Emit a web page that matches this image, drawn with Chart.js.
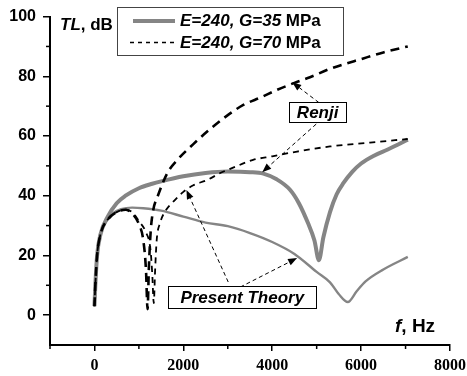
<!DOCTYPE html>
<html>
<head>
<meta charset="utf-8">
<script src="https://cdn.jsdelivr.net/npm/chart.js@4.4.0/dist/chart.umd.min.js"></script>
<style>
  html, body { margin: 0; padding: 0; background: #fff; }
  canvas { display: block; }
</style>
</head>
<body>
<canvas id="c" width="467" height="376"></canvas>
<script>
// --- data (frequency in Hz, TL in dB) ---
const renji35Freq = [0, 20, 60, 135, 300, 500, 700, 1000, 1300, 1500, 2000, 2500, 3000, 3500, 3800, 4100, 4400, 4600, 4800, 4950, 5050, 5150, 5300, 5450, 5600, 5800, 6000, 6300, 6600, 7050];
const renji35TL   = [3, 10, 20, 27, 33, 37.5, 40, 42.5, 44, 44.8, 46.5, 47.6, 48.1, 47.9, 47.4, 45.5, 42, 37.5, 31, 25, 18.4, 26, 34.5, 40.5, 44.2, 48, 50.8, 53.5, 55.5, 58.8];

const pt35Freq = [0, 20, 60, 135, 250, 400, 600, 850, 1100, 1500, 2000, 2500, 3000, 3500, 4000, 4500, 5000, 5300, 5500, 5700, 5900, 6100, 6500, 7050];
const pt35TL   = [3, 10, 20, 27, 31, 34, 35.5, 36, 35.8, 35, 33, 31, 29.8, 27.5, 24.5, 20.5, 14.5, 11, 7, 4.4, 8, 11.3, 15.3, 19.5];

const renji70Freq = [0, 20, 60, 135, 300, 500, 700, 850, 1000, 1100, 1160, 1195, 1225, 1265, 1320, 1415, 1640, 1865, 2225, 2600, 3000, 3350, 3750, 4100, 4500, 4850, 5300, 6050, 6500, 7050];
const renji70TL   = [3, 10, 20, 27, 32, 34.5, 35.3, 34, 30.5, 25, 15, 2, 16, 28, 35, 39.5, 47.6, 52, 57.3, 62.3, 67, 70.4, 73, 75.4, 77.8, 79.7, 82.5, 86, 88, 90];

const pt70Freq = [0, 20, 60, 135, 300, 500, 700, 850, 1000, 1150, 1260, 1300, 1335, 1365, 1400, 1480, 1600, 1775, 2000, 2225, 2540, 2830, 3120, 3570, 4000, 4560, 5300, 6200, 7050];
const pt70TL   = [3, 10, 20, 27, 32, 34.5, 35.3, 34.5, 31.5, 28, 22, 14, 4, 15, 25, 31, 35, 38, 41.3, 43.5, 45.3, 47.6, 49.4, 52, 53.2, 54.8, 56.5, 57.8, 59];

const xLabels = [0, 2000, 4000, 6000, 8000];
const yLabels = [0, 20, 40, 60, 80, 100];
const legendLabels = ['E=240, G=35', 'E=240, G=70'];
const legendUnit = 'MPa';

// text boxes with arrows, anchored in data units
const notes = [
  { text: 'Renji', at: [5022, 67.9], w: 57, h: 20,
    arrows: [[5050, 71.2, 4450, 78.0], [4990, 64.0, 3775, 47.9]] },
  { text: 'Present Theory', at: [3326, 6.0], w: 148, h: 22,
    arrows: [[3010, 11.1, 2070, 41.9], [3280, 9.4, 4560, 19.1]] }
];

const SANS = '"Liberation Sans", Arial, sans-serif';
const SERIF = '"Liberation Serif", "Times New Roman", serif';
const GRAY = '#858585';

const pts = (xs, ys) => xs.map((x, i) => ({ x: x, y: ys[i] }));

function arrow(ctx, x1, y1, x2, y2) {
  const a = Math.atan2(y2 - y1, x2 - x1);
  const L = 9, W = 3.5;
  const bx = x2 - L * Math.cos(a), by = y2 - L * Math.sin(a);
  ctx.save();
  ctx.strokeStyle = '#000';
  ctx.fillStyle = '#000';
  ctx.lineWidth = 1;
  ctx.setLineDash([4, 3]);
  ctx.beginPath();
  ctx.moveTo(x1, y1);
  ctx.lineTo(bx, by);
  ctx.stroke();
  ctx.setLineDash([]);
  ctx.beginPath();
  ctx.moveTo(x2, y2);
  ctx.lineTo(bx + W * Math.sin(a), by - W * Math.cos(a));
  ctx.lineTo(bx - W * Math.sin(a), by + W * Math.cos(a));
  ctx.closePath();
  ctx.fill();
  ctx.restore();
}

// draws "italic part" + " rest" in bold
function mixedText(ctx, italicPart, rest, x, y, size) {
  ctx.font = 'italic bold ' + size + 'px ' + SANS;
  ctx.fillText(italicPart, x, y);
  const w = ctx.measureText(italicPart).width;
  ctx.font = 'bold ' + size + 'px ' + SANS;
  ctx.fillText(rest, x + w, y);
}

const extras = {
  id: 'extras',
  afterDraw(chart) {
    const ctx = chart.ctx;
    const xs = chart.scales.x, ys = chart.scales.y;
    const area = chart.chartArea;

    // minor ticks + x tick labels (serif, as in the original)
    ctx.save();
    ctx.strokeStyle = '#000';
    ctx.fillStyle = '#000';
    ctx.lineWidth = 1.5;
    ctx.font = 'bold 16px ' + SERIF;
    ctx.textAlign = 'center';
    ctx.textBaseline = 'middle';
    xs.ticks.forEach(t => {
      const px = xs.getPixelForValue(t.value);
      if (xLabels.includes(t.value)) {
        ctx.fillText(String(t.value), px, area.bottom + 21);
        return;
      }
      ctx.beginPath(); ctx.moveTo(px, area.bottom); ctx.lineTo(px, area.bottom + 4); ctx.stroke();
    });
    ys.ticks.forEach(t => {
      if (yLabels.includes(t.value) || t.value === ys.min) return;
      const py = ys.getPixelForValue(t.value);
      ctx.beginPath(); ctx.moveTo(area.left, py); ctx.lineTo(area.left - 4, py); ctx.stroke();
    });
    ctx.restore();

    // axis titles
    ctx.save();
    ctx.fillStyle = '#000';
    ctx.textBaseline = 'alphabetic';
    mixedText(ctx, 'TL', ', dB', area.left + 10, 30, 17);
    mixedText(ctx, 'f', ', Hz', 395, 332, 19);
    ctx.restore();

    // legend box
    ctx.save();
    ctx.fillStyle = '#fff';
    ctx.fillRect(117.5, 7.5, 226, 48);
    ctx.strokeStyle = '#444';
    ctx.lineWidth = 1;
    ctx.strokeRect(117.5, 7.5, 226, 48);
    ctx.strokeStyle = GRAY;
    ctx.lineWidth = 4;
    ctx.beginPath(); ctx.moveTo(133, 21); ctx.lineTo(175, 21); ctx.stroke();
    ctx.strokeStyle = '#000';
    ctx.lineWidth = 1.5;
    ctx.setLineDash([4, 4]);
    ctx.beginPath(); ctx.moveTo(130, 42.5); ctx.lineTo(178, 42.5); ctx.stroke();
    ctx.setLineDash([]);
    ctx.fillStyle = '#000';
    ctx.textBaseline = 'middle';
    mixedText(ctx, legendLabels[0], ' ' + legendUnit, 180, 21, 17);
    mixedText(ctx, legendLabels[1], ' ' + legendUnit, 180, 43, 17);
    ctx.restore();

    // annotations
    notes.forEach(n => {
      n.arrows.forEach(a => arrow(ctx,
        xs.getPixelForValue(a[0]), ys.getPixelForValue(a[1]),
        xs.getPixelForValue(a[2]), ys.getPixelForValue(a[3])));
      const cx = xs.getPixelForValue(n.at[0]), cy = ys.getPixelForValue(n.at[1]);
      const x0 = Math.round(cx - n.w / 2) + 0.5, y0 = Math.round(cy - n.h / 2) + 0.5;
      ctx.save();
      ctx.fillStyle = '#fff';
      ctx.fillRect(x0, y0, n.w, n.h);
      ctx.strokeStyle = '#000';
      ctx.lineWidth = 1;
      ctx.strokeRect(x0, y0, n.w, n.h);
      ctx.fillStyle = '#000';
      ctx.font = 'italic bold 17px ' + SANS;
      ctx.textAlign = 'center';
      ctx.textBaseline = 'middle';
      ctx.fillText(n.text, cx, cy + 1);
      ctx.restore();
    });
  }
};

new Chart(document.getElementById('c'), {
  type: 'line',
  data: {
    datasets: [
      { label: 'Renji, G=70', data: pts(renji70Freq, renji70TL), borderColor: '#000', borderWidth: 2.6, borderDash: [9, 6], order: 1 },
      { label: 'Present Theory, G=70', data: pts(pt70Freq, pt70TL), borderColor: '#000', borderWidth: 1.8, borderDash: [6, 5], order: 2 },
      { label: 'Renji, G=35', data: pts(renji35Freq, renji35TL), borderColor: GRAY, borderWidth: 4, order: 3 },
      { label: 'Present Theory, G=35', data: pts(pt35Freq, pt35TL), borderColor: GRAY, borderWidth: 2.4, order: 4 }
    ]
  },
  options: {
    responsive: false,
    animation: false,
    layout: { padding: { top: 16, right: 17, left: 0, bottom: 0 } },
    elements: {
      point: { radius: 0 },
      line: { cubicInterpolationMode: 'monotone', fill: false, borderCapStyle: 'butt' }
    },
    plugins: { legend: { display: false }, tooltip: { enabled: false } },
    scales: {
      x: {
        type: 'linear',
        min: -1000, max: 8000,
        ticks: { stepSize: 1000, autoSkip: false, maxRotation: 0, display: false },
        grid: {
          drawOnChartArea: false, tickLength: 6, lineWidth: 1.5,
          tickColor: c => xLabels.includes(c.tick.value) ? '#000' : 'rgba(0,0,0,0)'
        },
        border: { color: '#000', width: 2 },
        afterFit: s => { s.height = 31; }
      },
      y: {
        min: -10, max: 100,
        ticks: {
          stepSize: 10, autoSkip: false, padding: 7, color: '#000',
          font: { family: SANS, weight: 'bold', size: 16 },
          callback: v => yLabels.includes(v) ? String(v) : ''
        },
        grid: {
          drawOnChartArea: false, tickLength: 7, lineWidth: 1.5,
          tickColor: c => yLabels.includes(c.tick.value) ? '#000' : 'rgba(0,0,0,0)'
        },
        border: { color: '#000', width: 2 },
        afterFit: s => { s.width = 50; }
      }
    }
  },
  plugins: [extras]
});
</script>
</body>
</html>
